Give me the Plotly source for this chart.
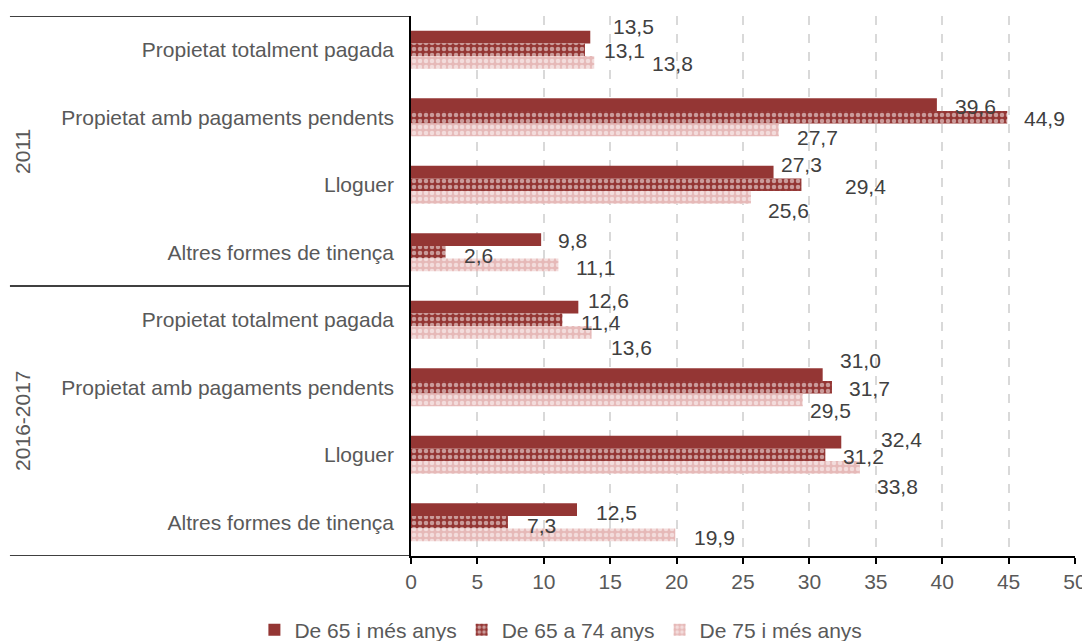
import plotly.graph_objects as go

# data
periods = ["2011", "2016-2017"]
tenures = ["Propietat totalment pagada", "Propietat amb pagaments pendents",
           "Lloguer", "Altres formes de tinença"]
series_names = ["De 65 i més anys", "De 65 a 74 anys", "De 75 i més anys"]
v_65_plus = [13.5, 39.6, 27.3, 9.8, 12.6, 31.0, 32.4, 12.5]
v_65_74 = [13.1, 44.9, 29.4, 2.6, 11.4, 31.7, 31.2, 7.3]
v_75_plus = [13.8, 27.7, 25.6, 11.1, 13.6, 29.5, 33.8, 19.9]
x_ticks = [0, 5, 10, 15, 20, 25, 30, 35, 40, 45, 50]

# label nudges in pixels (dx right of bar end, dy down from category centre)
nudges = [
    [(21, -23), (16, -11), (5, -20), (15, -12), (8, -19), (15, -27), (38, -15), (17, -10)],
    [(17, 1), (15, 1), (42, 2), (16, 3), (17, 3), (15, 1), (16, 2), (17, 3)],
    [(56, 14), (16, 20), (15, 26), (16, 15), (17, 28), (5, 23), (15, 32), (17, 15)],
]

FONT = "Arial, Liberation Sans, sans-serif"
FS = 21
GREY = "#595959"
DARK = "#404040"
colors = ["#943634", "#943634", "#E6B9B8"]
patterns = [None,
            dict(shape=".", fgcolor="white", size=6, solidity=0.45, fillmode="overlay"),
            dict(shape=".", fgcolor="white", size=6, solidity=0.45, fillmode="overlay")]

cat_labels = tenures * len(periods)
ypos = list(range(len(cat_labels)))

fig = go.Figure()
all_values = [v_65_plus, v_65_74, v_75_plus]
for i, (name, vals) in enumerate(zip(series_names, all_values)):
    marker = dict(color=colors[i], line=dict(width=0))
    if patterns[i]:
        marker["pattern"] = patterns[i]
    fig.add_trace(go.Bar(
        x=vals, y=ypos, orientation="h", name=name, marker=marker,
        hoverinfo="x+name"
    ))
    for j, v in enumerate(vals):
        dx, dy = nudges[i][j]
        fig.add_annotation(
            x=v, y=ypos[j], xref="x", yref="y",
            text=f"{v:.1f}".replace(".", ","), showarrow=False,
            xanchor="left", yanchor="middle", xshift=dx, yshift=-dy,
            font=dict(family=FONT, size=FS, color=DARK)
        )

# period labels (rotated) and separator lines of the category axis
n = len(tenures)
for k, p in enumerate(periods):
    fig.add_annotation(
        x=-0.586, xref="paper", y=k * n + (n - 1) / 2, yref="y",
        xanchor="center", yanchor="middle",
        text=p, textangle=-90, showarrow=False,
        font=dict(family=FONT, size=FS, color=GREY)
    )
for yb in [k * n - 0.5 for k in range(len(periods) + 1)]:
    fig.add_shape(type="line", xref="paper", yref="y", x0=-0.604, x1=0,
                  y0=yb, y1=yb, line=dict(color="black", width=1.5))

# the page body adds an 8px offset, so the figure is drawn 8px smaller
fig.update_layout(
    width=1082, height=633,
    margin=dict(l=403, r=15, t=8, b=85, autoexpand=False),
    paper_bgcolor="white", plot_bgcolor="white",
    barmode="group", bargap=0.437, bargroupgap=0,
    font=dict(family=FONT, size=FS, color=GREY),
    showlegend=True,
    legend=dict(orientation="h", xref="container", yref="container",
                x=0.511, xanchor="center", y=0.0174, yanchor="middle",
                font=dict(family=FONT, size=FS, color=GREY),
                itemwidth=30, tracegroupgap=0),
)
fig.update_xaxes(
    range=[0, 50], tickvals=x_ticks, ticktext=[str(t) for t in x_ticks],
    showgrid=True, gridcolor="#D9D9D9", griddash="dash", gridwidth=1.5,
    showline=True, linecolor="black", linewidth=1.5,
    ticks="outside", ticklen=6, tickcolor="black", tickwidth=1.5,
    zeroline=False, automargin=False, tickfont=dict(family=FONT, size=FS, color=GREY)
)
fig.update_yaxes(
    range=[len(cat_labels) - 0.5, -0.5], tickvals=ypos, ticktext=cat_labels,
    showgrid=False, showline=True, linecolor="black", linewidth=1.5,
    ticks="", ticklabelstandoff=11, zeroline=False, automargin=False,
    tickfont=dict(family=FONT, size=FS, color=GREY)
)

fig.write_html("out.html")
